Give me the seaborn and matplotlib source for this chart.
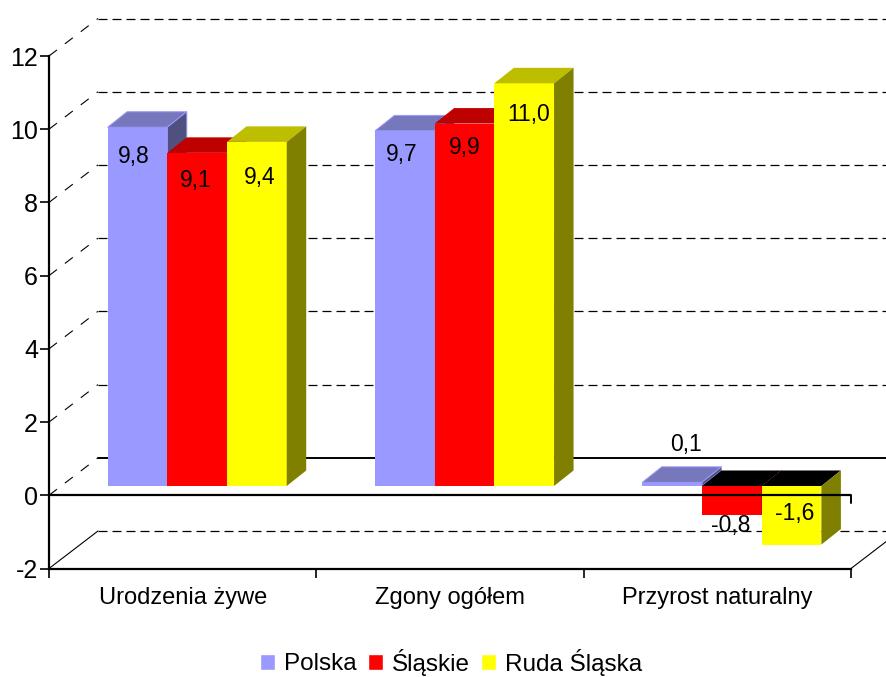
import matplotlib
matplotlib.use("Agg")
import matplotlib.pyplot as plt
import pandas as pd
import seaborn as sns
from matplotlib.patches import Polygon

CATEGORIES = ["Urodzenia żywe", "Zgony ogółem", "Przyrost naturalny"]
SERIES = ["Polska", "Śląskie", "Ruda Śląska"]
POLSKA = [9.8, 9.7, 0.1]
SLASKIE = [9.1, 9.9, -0.8]
RUDA = [9.4, 11.0, -1.6]
Y_TICKS = [-2, 0, 2, 4, 6, 8, 10, 12]

FRONT = ["#9999FF", "#FF0000", "#FFFF00"]
TOP = ["#7777BB", "#BE0000", "#BEBE00"]
SIDE = ["#4F4F80", "#800000", "#808000"]

# pixel scales of the fake 3d box
PX_X = 802 / 3
PX_Y = 512.5 / 14
WALL_DX, WALL_DY = 49 / PX_X, 37.5 / PX_Y
BAR_SHIFT_X, BAR_SHIFT_Y = 14.5 / PX_X, 9.3 / PX_Y
BAR_DX, BAR_DY = 19.5 / PX_X, 15.5 / PX_Y

# label offsets from the bar end, in pixels
LABEL_OFFSETS = [
    [(-4, -29), (-1, -28), (3, -36)],
    [(-3, -24), (0, -24), (4, -31)],
    [(14, 38), (-1, -10), (3, 31)],
]

sns.set_style("white")
plt.rcParams["font.family"] = ["Liberation Sans", "DejaVu Sans"]
plt.rcParams["axes.unicode_minus"] = False

data = pd.DataFrame({
    "category": CATEGORIES * 3,
    "series": [s for s in SERIES for _ in CATEGORIES],
    "value": POLSKA + SLASKIE + RUDA,
})

fig = plt.figure(figsize=(8.87, 6.77), dpi=100)
ax = fig.add_axes([49 / 887, (677 - 568.5) / 677, 802 / 887, 512.5 / 677])
sns.barplot(
    data=data, x="category", y="value", hue="series", order=CATEGORIES,
    hue_order=SERIES, palette=FRONT, width=0.67, saturation=1, errorbar=None, ax=ax,
)
ax.set_xlim(-0.5, 2.5)
ax.set_ylim(-2, 12)

# back wall
left, right = -0.5, 2.5
for tick in Y_TICKS:
    solid = tick == -2
    ax.plot(
        [left, left + WALL_DX], [tick, tick + WALL_DY], color="black", lw=0.8,
        ls="-" if solid else (0, (9, 9)), clip_on=False, zorder=1,
    )
    ax.plot(
        [left + WALL_DX, right + WALL_DX], [tick + WALL_DY, tick + WALL_DY],
        color="black", lw=1.4 if tick == 0 else 0.9,
        ls="-" if tick == 0 else (0, (7.2, 4)), clip_on=False, zorder=1,
    )
ax.plot([right, right + WALL_DX], [-2, -2 + WALL_DY], color="black", lw=0.8, clip_on=False, zorder=1)

# bars: move onto the floor of the box and add top and side faces
for s, container in enumerate(ax.containers):
    for c, bar in enumerate(container):
        bar.set_x(bar.get_x() + BAR_SHIFT_X)
        bar.set_y(bar.get_y() + BAR_SHIFT_Y)
        bar.set_zorder(3 + s)
        bar.set_clip_on(False)
        bar.set_linewidth(0)
        x0, x1 = bar.get_x(), bar.get_x() + bar.get_width()
        y0, y1 = sorted([bar.get_y(), bar.get_y() + bar.get_height()])
        top_color = "black" if y1 <= BAR_SHIFT_Y else TOP[s]
        edge = "#9999FF" if s == 0 else "none"
        ax.add_patch(Polygon(
            [(x0, y1), (x1, y1), (x1 + BAR_DX, y1 + BAR_DY), (x0 + BAR_DX, y1 + BAR_DY)],
            facecolor=top_color, edgecolor=edge, lw=0.7, clip_on=False, zorder=3 + s,
        ))
        ax.add_patch(Polygon(
            [(x1, y0), (x1 + BAR_DX, y0 + BAR_DY), (x1 + BAR_DX, y1 + BAR_DY), (x1, y1)],
            facecolor=SIDE[s], edgecolor=edge, lw=0.7, clip_on=False, zorder=3 + s,
        ))
        number = data["value"].iloc[s * 3 + c]
        ax.annotate(
            f"{number:.1f}".replace(".", ","),
            ((x0 + x1) / 2, y1 if number > 0 else y0),
            xytext=LABEL_OFFSETS[c][s], textcoords="offset pixels",
            ha="center", va="center", fontsize=16.5, color="black", zorder=10,
        )

# front zero line runs over the bars
ax.axhline(0, color="black", lw=1.6, zorder=8)
ax.plot([right, right], [0, -8 / PX_Y], color="black", lw=1.4, clip_on=False, zorder=8)

# axes
sns.despine(ax=ax, top=True, right=True)
for name in ["left", "bottom"]:
    ax.spines[name].set_linewidth(1.6)
    ax.spines[name].set_color("black")
ax.set_yticks(Y_TICKS)
ax.tick_params(axis="y", length=6.5, width=1.2, color="black", left=True, labelsize=18, labelcolor="black", pad=1.5)
ax.set_xticks([0, 1, 2], CATEGORIES)
ax.set_xticks([-0.5, 0.5, 1.5, 2.5], minor=True)
ax.tick_params(axis="x", which="major", length=0, labelsize=17, labelcolor="black", pad=13)
ax.tick_params(axis="x", which="minor", length=6.5, width=1.2, color="black", bottom=True)
ax.set_xlabel("")
ax.set_ylabel("")

handles, labels = ax.get_legend_handles_labels()
ax.legend(
    handles, labels, ncol=3, frameon=False, fontsize=17.5, loc="center",
    bbox_to_anchor=(451 / 887, 1 - 662 / 677), bbox_transform=fig.transFigure,
    handlelength=0.62, handleheight=0.62, handletextpad=0.38, columnspacing=0.45,
    borderpad=0, borderaxespad=0, labelcolor="black",
)

fig.savefig("out.png", dpi=100)
plt.close(fig)
